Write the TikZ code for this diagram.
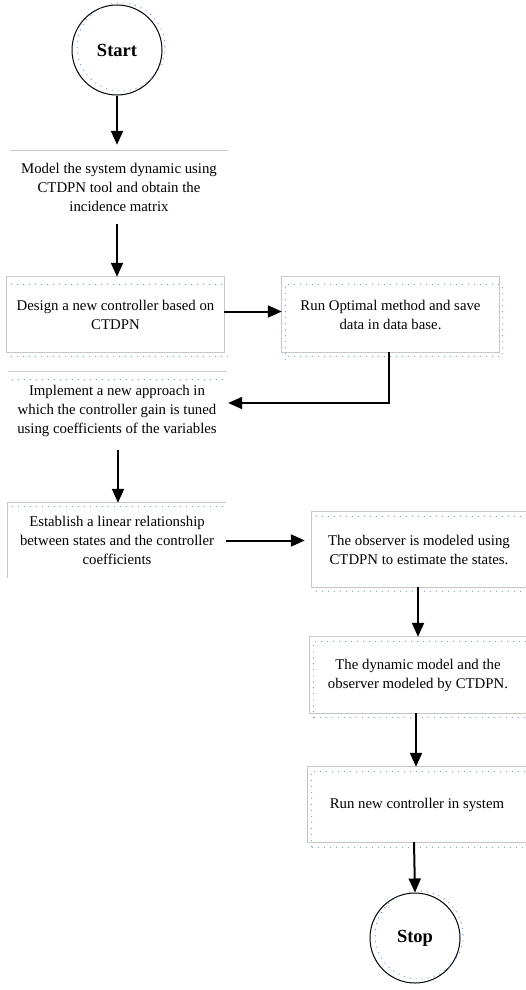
\documentclass[tikz,border=0pt]{standalone}
\usepackage{fontspec}
\setmainfont{Liberation Serif}
\usetikzlibrary{arrows.meta}
\definecolor{dotblue}{RGB}{110,160,225}
\begin{document}
\begin{tikzpicture}[x=1pt,y=-1pt,
  boxn/.style={rectangle, inner sep=0pt, align=center, font=\fontsize{14.8}{19}\selectfont},
  frame/.style={draw=black!22, line width=0.9pt},
  dots/.style={draw=dotblue, line width=1pt, dash pattern=on 1pt off 5pt},
  flow/.style={line width=2pt, -{Triangle[length=14pt,width=12pt]}},
  term/.style={circle, draw, line width=1pt, minimum size=90pt, inner sep=0pt, font=\fontsize{18.5}{20}\selectfont\bfseries}
]
\useasboundingbox (0,0) rectangle (526,990);

% terminals
\node[term] (start) at (117,50) {Start};
\draw[dots] (121,47) circle (44pt);
\node[term] (stop) at (415,938) {Stop};
\draw[dots] (419,935) circle (44pt);

% boxes
\node[boxn, minimum width=218pt, minimum height=73pt] (b1) at (119,187.5)
  {Model the system dynamic using\\CTDPN tool and obtain the\\incidence matrix};
\node[boxn, minimum width=217pt, minimum height=75pt] (b2) at (115.5,314.5)
  {Design a new controller based on\\CTDPN};
\node[boxn, minimum width=217pt, minimum height=75pt] (b3) at (390.5,314.5)
  {Run Optimal method and save\\data in data base.};
\node[boxn, minimum width=218pt, minimum height=78pt] (b4) at (117,411)
  {Implement a new approach in\\which the controller gain is tuned\\using coefficients of the variables};
\node[boxn, minimum width=218pt, minimum height=75pt] (b5) at (117,540.5)
  {Establish a linear relationship\\between states and the controller\\coefficients};
\node[boxn, minimum width=214pt, minimum height=75pt] (b6) at (419,549.5)
  {The observer is modeled using\\CTDPN to estimate the states.};
\node[boxn, minimum width=216pt, minimum height=76pt] (b7) at (418,675)
  {The dynamic model and the\\observer modeled by CTDPN.};
\node[boxn, minimum width=218pt, minimum height=75pt] (b8) at (417,804.5)
  {Run new controller in system};

% box frames (only the visible sides)
\draw[frame] (b1.north west) -- (b1.north east);
\draw[frame] (b2.north west) rectangle (b2.south east);
\draw[frame] (b3.north west) rectangle (b3.south east);
\draw[frame] (b4.north west) -- (b4.north east);
\draw[frame] (b5.south west) -- (b5.north west) -- (b5.north east);
\draw[frame] (b6.north east) -- (b6.north west) -- (b6.south west) -- (b6.south east);
\draw[frame] (b7.north east) -- (b7.north west) -- (b7.south west) -- (b7.south east);
\draw[frame] (b8.north east) -- (b8.north west) -- (b8.south west) -- (b8.south east);

% dotted guide marks
\draw[dots] ([shift={(4pt,-8pt)}]b2.north west) -- ([shift={(0pt,-8pt)}]b2.north east);
\draw[dots] ([shift={(4pt,-4pt)}]b2.south west) -- ([shift={(4pt,-4pt)}]b2.south east);
\draw[dots] ([shift={(4pt,-8pt)}]b3.south west) |- ([shift={(3pt,-8pt)}]b3.north east) |- ([shift={(3pt,-4pt)}]b3.south east) -| ([shift={(4pt,-4pt)}]b3.south west);
\draw[dots] ([shift={(4pt,-8pt)}]b4.north west) -- ([shift={(0pt,-8pt)}]b4.north east);
\draw[dots] ([shift={(4pt,-4pt)}]b5.north west) -- ([shift={(0pt,-4pt)}]b5.north east);
\draw[dots] ([shift={(4pt,-5pt)}]b6.north west) -- ([shift={(0pt,-5pt)}]b6.north east);
\draw[dots] ([shift={(4pt,-4pt)}]b6.south west) -- ([shift={(0pt,-4pt)}]b6.south east);
\draw[dots] ([shift={(4pt,-5pt)}]b7.south west) |- ([shift={(0pt,-5pt)}]b7.north east);
\draw[dots] ([shift={(4pt,-4pt)}]b7.south west) -- ([shift={(0pt,-4pt)}]b7.south east);
\draw[dots] ([shift={(4pt,-5pt)}]b8.south west) |- ([shift={(0pt,-5pt)}]b8.north east);
\draw[dots] ([shift={(4pt,-5pt)}]b8.south west) -- ([shift={(0pt,-5pt)}]b8.south east);

% connectors
\coordinate (turn) at ([xshift=-1.5pt]b3.south |- 0,403);
\draw[flow, shorten >=6pt] (start.south) -- (start.south |- b1.north);
\draw[flow] (b1.south -| start.south) -- (start.south |- b2.north);
\draw[flow] ([yshift=3pt]b2.east) -- ([yshift=3pt]b3.west);
\draw[flow] (turn |- b3.south) -- (turn) -- ([xshift=2pt]turn -| b4.east);
\draw[flow] ([xshift=1pt]b4.south) -- ([xshift=1pt]b4.south |- b5.north);
\draw[flow, shorten >=7pt] (b5.east) -- (b5.east -| b6.west);
\draw[flow] ([xshift=-1pt]b6.south) -- ([xshift=-1pt]b6.south |- b7.north);
\draw[flow] ([xshift=-2pt]b7.south) -- ([xshift=-2pt]b7.south |- b8.north);
\draw[flow] ([xshift=-3pt]b8.south) -- (stop.north);
\end{tikzpicture}
\end{document}
